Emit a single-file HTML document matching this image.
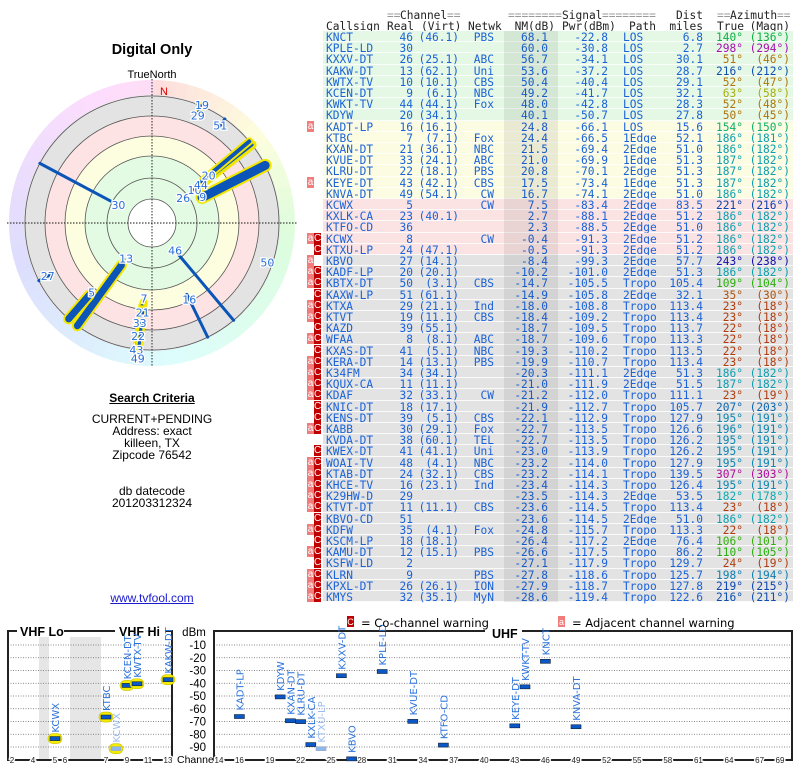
<!DOCTYPE html>
<html><head><meta charset="utf-8">
<style>
html,body{margin:0;padding:0;background:#fff;width:800px;height:768px;overflow:hidden;position:relative}
.t{position:absolute;font-family:"DejaVu Sans Mono","Liberation Mono",monospace;font-size:11.2px;line-height:11px;white-space:pre}
.s{position:absolute;font-family:"Liberation Sans",sans-serif;color:#000;text-align:center}
.row{position:absolute;left:323px;width:470px;height:10.2px;border-bottom:1px solid rgba(255,255,255,0.8)}
.flag{position:absolute;width:7px;height:11px;font-family:"Liberation Sans",sans-serif;font-size:10px;line-height:11px;color:#fff;text-align:center}
</style></head><body>
<svg id="polar" width="305" height="380" style="position:absolute;left:0;top:0"></svg>
<div class="s" style="left:52px;top:42px;width:200px;font-size:14.5px;font-weight:bold">Digital Only</div>
<div class="s" style="left:52px;top:391px;width:200px;font-size:12px;font-weight:bold;text-decoration:underline">Search Criteria</div>
<div class="s" style="left:32px;top:413px;width:240px;font-size:12px;line-height:12px">CURRENT+PENDING<br>Address: exact<br>killeen, TX<br>Zipcode 76542<br><br><br>db datecode<br>201203312324</div>
<div class="s" style="left:52px;top:591px;width:200px;font-size:12px;color:#1a1ad0;text-decoration:underline">www.tvfool.com</div>
<div id="table"></div>
<svg id="bottom" width="800" height="768" style="position:absolute;left:0;top:0;pointer-events:none"></svg>
<script>
// ---------- table data ----------
const rowCalls=["KNCT","KPLE-LD","KXXV-DT","KAKW-DT","KWTX-TV","KCEN-DT","KWKT-TV","KDYW","KADT-LP","KTBC","KXAN-DT","KVUE-DT","KLRU-DT","KEYE-DT","KNVA-DT","KCWX","KXLK-CA","KTFO-CD","KCWX","KTXU-LP","KBVO","KADF-LP","KBTX-DT","KAXW-LP","KTXA","KTVT","KAZD","WFAA","KXAS-DT","KERA-DT","K34FM","KQUX-CA","KDAF","KNIC-DT","KENS-DT","KABB","KVDA-DT","KWEX-DT","WOAI-TV","KTAB-DT","KHCE-TV","K29HW-D","KTVT-DT","KBVO-CD","KDFW","KSCM-LP","KAMU-DT","KSFW-LD","KLRN","KPXL-DT","KMYS"];
const rowReal=[46,30,26,13,10,9,44,20,16,7,21,33,22,43,49,5,23,36,8,24,27,20,50,51,29,19,39,8,41,14,34,11,32,18,39,30,38,41,48,24,16,29,11,51,35,18,12,2,9,26,32];
const rowVirt=["46.1","","25.1","62.1","10.1","6.1","44.1","34.1","16.1","7.1","36.1","24.1","18.1","42.1","54.1","","40.1","","","47.1","14.1","20.1","3.1","61.1","21.1","11.1","55.1","8.1","5.1","13.1","34.1","11.1","33.1","17.1","5.1","29.1","60.1","41.1","4.1","32.1","23.1","","11.1","","4.1","18.1","15.1","","","26.1","35.1"];
const rowNet=["PBS","","ABC","Uni","CBS","NBC","Fox","","","Fox","NBC","ABC","PBS","CBS","CW","CW","","","CW","","","","CBS","","Ind","CBS","","ABC","NBC","PBS","","","CW","","CBS","Fox","TEL","Uni","NBC","CBS","Ind","","CBS","","Fox","","PBS","","PBS","ION","MyN"];
const rowNM=[68.1,60.0,56.7,53.6,50.4,49.2,48.0,40.1,24.8,24.4,21.5,21.0,20.8,17.5,16.7,7.5,2.7,2.3,-0.4,-0.5,-8.4,-10.2,-14.7,-14.9,-18.0,-18.4,-18.7,-18.7,-19.3,-19.9,-20.3,-21.0,-21.2,-21.9,-22.1,-22.7,-22.7,-23.0,-23.2,-23.2,-23.4,-23.5,-23.6,-23.6,-24.8,-26.4,-26.6,-27.1,-27.8,-27.9,-28.6];
const rowPwr=[-22.8,-30.8,-34.1,-37.2,-40.4,-41.7,-42.8,-50.7,-66.1,-66.5,-69.4,-69.9,-70.1,-73.4,-74.1,-83.4,-88.1,-88.5,-91.3,-91.3,-99.3,-101.0,-105.5,-105.8,-108.8,-109.2,-109.5,-109.6,-110.2,-110.7,-111.1,-111.9,-112.0,-112.7,-112.9,-113.5,-113.5,-113.9,-114.0,-114.1,-114.3,-114.3,-114.5,-114.5,-115.7,-117.2,-117.5,-117.9,-118.6,-118.7,-119.4];
const rowPath=["LOS","LOS","LOS","LOS","LOS","LOS","LOS","LOS","LOS","1Edge","2Edge","1Edge","2Edge","1Edge","2Edge","2Edge","2Edge","2Edge","2Edge","2Edge","2Edge","2Edge","Tropo","2Edge","Tropo","Tropo","Tropo","Tropo","Tropo","Tropo","2Edge","2Edge","Tropo","Tropo","Tropo","Tropo","Tropo","Tropo","Tropo","Tropo","Tropo","2Edge","Tropo","2Edge","Tropo","2Edge","Tropo","Tropo","Tropo","Tropo","Tropo"];
const rowDist=[6.8,2.7,30.1,28.7,29.1,32.1,28.3,27.8,15.6,52.1,51.0,51.3,51.3,51.3,51.0,83.5,51.2,51.0,51.2,51.2,57.7,51.3,105.4,32.1,113.4,113.4,113.7,113.3,113.5,113.4,51.3,51.5,111.1,105.7,127.9,126.6,126.2,126.2,127.9,139.5,126.4,53.5,113.4,51.0,113.3,76.4,86.2,129.7,125.7,127.8,122.6];
const rowAz=[140,298,51,216,52,63,52,50,154,186,186,187,187,187,186,221,186,186,186,186,243,186,109,35,23,23,22,22,22,23,186,187,23,207,195,196,195,195,195,307,195,182,23,186,22,106,110,24,198,219,216];
const rowMag=[136,294,46,212,47,58,48,45,150,181,182,182,182,182,182,216,182,182,182,182,238,182,104,30,18,18,18,18,18,18,182,182,19,203,191,191,191,191,191,303,191,178,18,182,18,101,105,19,194,215,211];
const rowFlags=["","","","","","","","","a","","","","","a","","","","","aC","C","a","aC","aC","C","aC","aC","C","aC","C","aC","aC","aC","aC","C","C","aC","","C","aC","aC","aC","aC","aC","C","aC","C","aC","C","aC","aC","aC"];
const sectionSizes=[8,7,5,31];
const sectionColors=["#e5f8e5","#fcfce2","#fce3e3","#e3e3e3"];

function azColor(a){let h=a<=60?a*0.75:a;return `hsl(${h},85%,37%)`;}
const RH=11.2;
const tbl=document.getElementById('table');
function span(txt,css,color){const e=document.createElement('div');e.className='t';e.textContent=txt;e.style.cssText+=css;if(color)e.style.color=color;tbl.appendChild(e);return e;}
const hc="#222",eq="#999";
let h;
h=span("==",'left:387px;top:10px',eq);
h=span("Channel",'left:400px;top:10px',hc);
h=span("==",'left:447px;top:10px',eq);
h=span("========",'left:508px;top:10px',eq);
h=span("Signal",'left:562px;top:10px',hc);
h=span("========",'left:602px;top:10px',eq);
h=span("Dist",'right:97px;top:10px',hc);
h=span("==",'left:717px;top:10px',eq);
h=span("Azimuth",'left:730px;top:10px',hc);
h=span("==",'left:777px;top:10px',eq);
const hdrs=[["Callsign",'left:326px'],["Real",'left:387px'],["(Virt)",'left:421px'],["Netwk",'left:468px'],["NM(dB)",'right:245px'],["Pwr(dBm)",'left:562px'],["Path",'left:629px'],["miles",'right:97px'],["True",'left:717px'],["(Magn)",'right:10px']];
hdrs.forEach(x=>{const e=span(x[0],x[1]+';top:21px',hc);});
let sec=0,secEnd=sectionSizes[0];
const band=document.createElement('div');


for(let i=0;i<rowCalls.length;i++){
  if(i>=secEnd){sec++;secEnd+=sectionSizes[sec];}
  const top=31+i*RH;
  const r=document.createElement('div');r.className='row';r.style.top=top+'px';r.style.background=sectionColors[sec];
  
  
  tbl.appendChild(r);
  const c="#1a62d8",tp='top:'+(top+1)+'px;';
  span(rowCalls[i],tp+'left:326px',c);
  span(String(rowReal[i]),tp+'right:387px',c);
  if(rowVirt[i])span('('+rowVirt[i]+')',tp+'right:341px',c);
  if(rowNet[i])span(rowNet[i],tp+'right:306px',c);
  span(rowNM[i].toFixed(1),tp+'right:252px',c);
  span(rowPwr[i].toFixed(1),tp+'right:192px',c);
  span(rowPath[i],tp+'left:623px',c);
  span(rowDist[i].toFixed(1),tp+'right:97px',c);
  const ac=azColor(rowAz[i]);
  span(rowAz[i]+'°',tp+'right:57px',ac);
  span('('+rowMag[i]+'°)',tp+'right:10px',ac);
  const f=rowFlags[i];
  if(f.includes('a')){const e=document.createElement('div');e.className='flag';e.textContent='a';e.style.cssText+='left:307px;top:'+top+'px;background:#f07c7c';tbl.appendChild(e);}
  if(f.includes('C')){const e=document.createElement('div');e.className='flag';e.textContent='C';e.style.cssText+='left:314px;top:'+top+'px;background:#c00000';tbl.appendChild(e);}
}
band.style.cssText='position:absolute;left:504px;top:31px;width:54px;height:'+(rowCalls.length*RH)+'px;background:rgba(0,0,0,0.07)';
tbl.appendChild(band);

// ---------- polar chart ----------
const polCh=[46,30,26,13,10,9,44,20,16,7,21,33,22,43,49,5,27,50,51,29,19];
const polAz=[140,298,51,216,52,63,52,50,154,186,186,187,187,187,186,221,243,109,35,23,23];
const polNM=[68.1,60.0,56.7,53.6,50.4,49.2,48.0,40.1,24.8,24.4,21.5,21.0,20.8,17.5,16.7,7.5,-8.4,-14.7,-14.9,-18.0,-18.4];
const polThick=[3,3,2,7,5,9,3,4,3,4,3,3,3,3,3,7,3,3,3,2,4];
const polHalo=[0,0,0,1,1,1,1,1,0,1,1,1,1,1,1,1,0,0,0,0,1];
const polLabelR=[36,38,40,44,54,57,62,74,85,76,90,101,114,128,136,92,117,122,119,117,128];
const NS='http://www.w3.org/2000/svg';
function el(p,tag,attrs){const e=document.createElementNS(NS,tag);for(const k in attrs)e.setAttribute(k,attrs[k]);p.appendChild(e);return e;}
const P=document.getElementById('polar');
const cx=152,cy=223,R0=143,Rg=128;
function rad(nm){return Math.max(24,103-0.95*nm);}
function pt(az,r){const a=az*Math.PI/180;return [cx+r*Math.sin(a),cy-r*Math.cos(a)];}
const ringG=el(P,'g',{});


for(let a=0;a<360;a+=5){
  const hue=a<=90?a*1.3:(a<=180?117+(a-90)*0.8:(a<=270?189+(a-180)*0.7:252+(a-270)*0.75));
  const p1=pt(a,R0),p2=pt(a+5.5,R0);
  el(ringG,'path',{d:`M${cx},${cy}L${p1[0]},${p1[1]}A${R0},${R0} 0 0 1 ${p2[0]},${p2[1]}Z`,fill:`hsl(${hue},90%,93%)`});
}
el(P,'circle',{cx,cy,r:Rg,fill:'#e3e3e3'});
el(P,'circle',{cx,cy,r:107,fill:'#fde3e3'});
el(P,'circle',{cx,cy,r:87,fill:'#fdfde0'});
el(P,'circle',{cx,cy,r:67,fill:'#e3fae3'});
el(P,'circle',{cx,cy,r:24,fill:'#fff'});
[24,45,67,87,107,127].forEach(r=>el(P,'circle',{cx,cy,r,fill:'none',stroke:'#555','stroke-width':0.8}));
el(P,'line',{x1:7,y1:cy,x2:297,y2:cy,stroke:'#111','stroke-width':0.9,'stroke-dasharray':'1.5,1.5'});
el(P,'line',{x1:cx,y1:79,x2:cx,y2:367,stroke:'#111','stroke-width':0.9,'stroke-dasharray':'1.5,1.5'});
const tn=el(P,'text',{x:cx,y:78,'text-anchor':'middle','font-family':'Liberation Sans, sans-serif','font-size':11});tn.textContent='TrueNorth';


const nn=el(P,'text',{x:164,y:95,'text-anchor':'middle','font-family':'Liberation Sans, sans-serif','font-size':11,fill:'#e00000'});nn.textContent='N';


for(let i=0;i<polCh.length;i++){
  const r1=rad(polNM[i]),r2=Rg-1;const a=pt(polAz[i],r1),b=pt(polAz[i],r2);
  if(polHalo[i]){const hl=el(P,'line',{x1:a[0],y1:a[1],x2:b[0],y2:b[1],stroke:'#f2e600','stroke-width':polThick[i]+4,'stroke-linecap':'round'});
    
    }
  const ln=el(P,'line',{x1:a[0],y1:a[1],x2:b[0],y2:b[1],stroke:'#0b55b8','stroke-width':polThick[i],'stroke-linecap':'round'});
  
  
}
for(let i=0;i<polCh.length;i++){
  const a=pt(polAz[i],polLabelR[i]);
  const t=el(P,'text',{x:a[0],y:a[1]+4,'text-anchor':'middle','font-family':'DejaVu Sans, sans-serif','font-size':11,fill:'#2a6fd8',stroke:'#fff','stroke-width':2.5,'paint-order':'stroke'});
  t.textContent=polCh[i];
  
  
}

// ---------- bottom chart ----------
const vCall=["KCWX","KTBC","KCWX","KCEN-DT","KWTX-TV","KAKW-DT"];
const vCh=[5,7,8,9,10,13];
const vPwr=[-83.4,-66.5,-91.3,-41.7,-40.4,-37.2];
const vFaint=[0,0,1,0,0,0];
const uCall=["KADT-LP","KDYW","KXAN-DT","KLRU-DT","KXLK-CA","KTXU-LP","KXXV-DT","KBVO","KPLE-LD","KVUE-DT","KTFO-CD","KEYE-DT","KWKT-TV","KNCT","KNVA-DT"];
const uCh=[16,20,21,22,23,24,26,27,30,33,36,43,44,46,49];
const uPwr=[-66.1,-50.7,-69.4,-70.1,-88.1,-91.3,-34.1,-99.3,-30.8,-69.9,-88.5,-73.4,-42.8,-22.8,-74.1];
const uFaint=[0,0,0,0,0,1,0,0,0,0,0,0,0,0,0];
const dbTicks=[-10,-20,-30,-40,-50,-60,-70,-80,-90];
const vTicks=[2,4,5,6,7,9,11,13];
const uTicks=[14,16,19,22,25,28,31,34,37,40,43,46,49,52,55,58,61,64,67,69];
const vMapCh=[2,3,4,5,6,7,8,9,10,11,12,13];
const vMapX=[12,23,33,55,65,106,116,127,137,148,158,168];
function yDb(d){return 645+(-10-d)*1.275;}
function xV(ch){const i=vMapCh.indexOf(ch);return vMapX[i];}
function xU(ch){return 219+(ch-14)*10.2;}
const B=document.getElementById('bottom');
const ff='Liberation Sans, sans-serif';
el(B,'rect',{x:39,y:637,width:10,height:123,fill:'#e6e6e6'});
el(B,'rect',{x:70,y:637,width:31,height:123,fill:'#e6e6e6'});
dbTicks.forEach(d=>{const y=yDb(d);
  el(B,'line',{x1:8,y1:y,x2:171,y2:y,stroke:'#666','stroke-width':0.8,'stroke-dasharray':'1,1.5'});
  el(B,'line',{x1:214,y1:y,x2:791,y2:y,stroke:'#666','stroke-width':0.8,'stroke-dasharray':'1,1.5'});
  const t=el(B,'text',{x:206,y:y+4,'text-anchor':'end','font-family':ff,'font-size':11.5});t.textContent=d;
  
  
});
const dbm=el(B,'text',{x:194,y:636,'text-anchor':'middle','font-family':ff,'font-size':11.5});dbm.textContent='dBm';


const chl=el(B,'text',{x:177,y:763,'font-family':ff,'font-size':10.5});chl.textContent='Channel';


const bs={stroke:'#222','stroke-width':2,fill:'none'};
el(B,'path',Object.assign({d:'M17,631H8V760H172V631H165'},bs));
el(B,'line',Object.assign({x1:64,y1:631,x2:115,y2:631},bs));
el(B,'path',Object.assign({d:'M485,631H214V760H792V631H522'},bs));
function bt(x,y,s){const t=el(B,'text',{x,y,'font-family':ff,'font-size':12.5,'font-weight':'bold'});t.textContent=s;return t;}
let bb=bt(20,636,'VHF Lo');
bb=bt(119,636,'VHF Hi');
bb=bt(492,638,'UHF');
vTicks.forEach(c=>{const t=el(B,'text',{x:xV(c),y:763,'text-anchor':'middle','font-family':ff,'font-size':8,fill:'#222',stroke:'#fff','stroke-width':3,'paint-order':'stroke'});t.textContent=c;
  
  });
uTicks.forEach(c=>{const t=el(B,'text',{x:Math.min(xU(c),787),y:763,'text-anchor':'middle','font-family':ff,'font-size':8,fill:'#222',stroke:'#fff','stroke-width':3,'paint-order':'stroke'});t.textContent=c;
  
  });
function marker(x,p,call,faint,yellow){
  const y=yDb(p);
  if(yellow){const hh=el(B,'rect',{x:x-7,y:y-5,width:14,height:10,rx:5,fill:'#f5ec00',stroke:'#c8c000','stroke-width':0.6});
    
    }
  const m=el(B,'rect',{x:x-5,y:y-2,width:10,height:4,fill:faint?'#8fb6ee':'#0a58c8',stroke:faint?'#9ab':'#123',"stroke-width":0.6});
  
  
  const t=el(B,'text',{transform:`translate(${x+4},${y-6}) rotate(-90)`,'font-family':'DejaVu Sans, sans-serif','font-size':10,fill:faint?'#9cbcf0':'#2a72dc'});
  t.textContent=call;
  
  
}
for(let i=0;i<vCall.length;i++)marker(xV(vCh[i]),vPwr[i],vCall[i],vFaint[i],1);
for(let i=0;i<uCall.length;i++)marker(xU(uCh[i]),uPwr[i],uCall[i],uFaint[i],0);
el(B,'rect',{x:347,y:616,width:7,height:11,fill:'#c00000'});
let lg=el(B,'text',{x:350.5,y:625,'text-anchor':'middle','font-family':ff,'font-size':9,fill:'#fff'});lg.textContent='C';
lg=el(B,'text',{x:361,y:627,'font-family':'DejaVu Sans, sans-serif','font-size':11.5});lg.textContent='= Co-channel warning';


el(B,'rect',{x:558,y:616,width:7,height:11,fill:'#f07c7c'});
lg=el(B,'text',{x:561.5,y:625,'text-anchor':'middle','font-family':ff,'font-size':9,fill:'#fff'});lg.textContent='a';
lg=el(B,'text',{x:572,y:627,'font-family':'DejaVu Sans, sans-serif','font-size':11.5});lg.textContent='= Adjacent channel warning';


</script>
</body></html>
